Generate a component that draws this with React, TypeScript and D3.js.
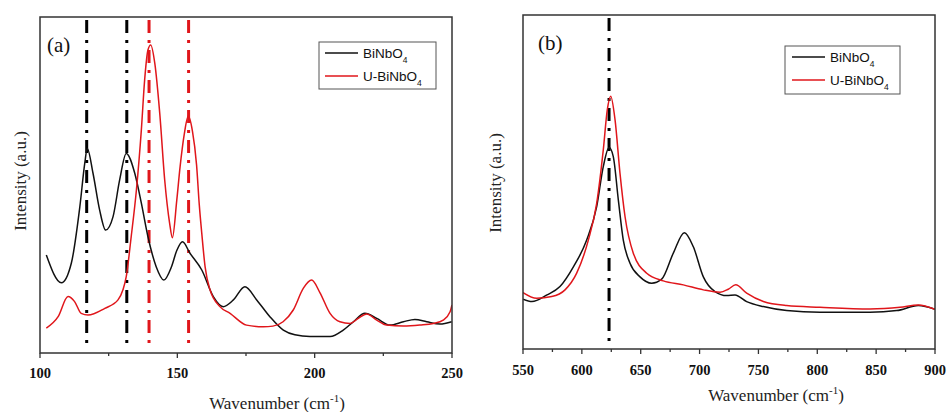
import React from "react";
import * as d3 from "d3";

// ---------- Data ----------
// Panel (a): wavenumber (cm-1) and intensity (a.u.)
const aBlackX = [102.3, 107.8, 111.4, 114.5, 116.3, 117.2, 119.3, 121.7, 123.9, 126.6, 129.0, 131.4, 134.5, 136.9, 139.3, 142.3, 145.1, 147.8, 149.8, 151.9, 154.6, 158.9, 163.1, 166.7, 170.4, 174.6, 178.9, 183.7, 188.6, 192.8, 198.3, 205.6, 210.4, 214.1, 218.3, 222.6, 227.4, 232.3, 236.5, 240.8, 245.6, 249.9];
const aBlackY = [29.2, 20.9, 26.7, 43.5, 56.5, 60.9, 53.5, 42.6, 36.6, 40.6, 51.5, 59.4, 53.5, 44.6, 34.6, 25.7, 21.7, 25.5, 30.5, 33.1, 29.7, 24.7, 16.8, 13.8, 15.8, 19.7, 15.8, 10.8, 6.8, 5.4, 4.9, 4.9, 6.8, 9.3, 11.8, 10.3, 8.3, 9.3, 10.0, 9.3, 8.6, 9.3];
const aRedX = [102.3, 106.6, 110.2, 112.6, 115.0, 117.5, 123.6, 128.4, 130.2, 131.4, 133.2, 135.1, 136.9, 138.1, 139.3, 140.3, 141.8, 143.6, 145.4, 147.2, 148.2, 149.8, 151.0, 152.5, 154.0, 155.5, 157.0, 158.0, 158.9, 160.1, 161.9, 165.5, 169.2, 175.2, 181.3, 184.8, 188.5, 192.2, 195.9, 198.9, 201.9, 205.6, 209.2, 212.9, 215.9, 218.9, 222.6, 226.2, 232.3, 238.3, 243.2, 246.8, 249.3, 250.0];
const aRedY = [7.4, 10.8, 16.8, 15.3, 11.8, 11.3, 13.3, 15.8, 18.8, 22.7, 34.6, 48.5, 66.4, 81.3, 90.2, 91.7, 86.2, 71.3, 51.5, 38.6, 34.3, 45.5, 55.4, 65.0, 70.5, 66.0, 56.0, 44.0, 35.6, 25.7, 18.8, 13.8, 11.8, 8.3, 7.8, 8.0, 9.3, 12.8, 19.3, 21.7, 18.0, 11.8, 9.3, 8.8, 10.3, 11.6, 9.8, 8.3, 8.0, 8.3, 8.8, 9.8, 12.3, 14.3];
const aBlackMarks = [117.0, 131.6];
const aRedMarks = [139.7, 154.1];
const aTicks = [100, 150, 200, 250];
const aMinorTicks = [125, 175, 225];

// Panel (b)
const bBlackX = [550, 557.6, 570.4, 581.4, 592.8, 604.1, 612.6, 618.2, 623.1, 626.7, 631.0, 635.2, 640.9, 649.4, 659.3, 667.8, 677.7, 687.1, 694.7, 703.2, 713.1, 723.1, 730.1, 740.0, 754.2, 774.0, 802.3, 844.8, 867.5, 885.8, 900];
const bBlackY = [14.9, 14.2, 16.2, 18.7, 24.6, 32.6, 42.6, 54.6, 60.3, 57.6, 44.6, 32.6, 25.7, 21.6, 19.7, 20.9, 28.7, 34.8, 30.6, 21.6, 17.2, 16.0, 16.2, 14.2, 12.7, 11.5, 11.0, 11.0, 11.5, 13.0, 11.9];
const bRedX = [550, 561.6, 574.4, 585.7, 595.6, 605.5, 612.6, 618.2, 621.6, 624.5, 628.2, 632.4, 636.7, 643.7, 655.1, 669.2, 686.2, 703.2, 717.4, 724.4, 730.7, 740.0, 754.2, 774.0, 802.3, 844.8, 870.3, 885.8, 900];
const bRedY = [16.9, 15.2, 15.7, 17.7, 22.7, 32.6, 43.6, 59.6, 71.6, 75.7, 68.6, 52.6, 39.6, 28.7, 22.7, 20.4, 19.2, 17.7, 17.0, 17.9, 19.2, 16.7, 14.2, 13.0, 12.5, 12.0, 12.5, 13.2, 11.9];
const bBlackMarks = [623.1];
const bTicks = [550, 600, 650, 700, 750, 800, 850, 900];
const bMinorTicks = [575, 625, 675, 725, 775, 825, 875];

const seriesNames = ["BiNbO", "U-BiNbO"];
const seriesColors = ["#111111", "#e0161b"];

const SERIF = "'Liberation Serif', 'Times New Roman', Times, serif";
const SANS = "'Liberation Sans', Arial, Helvetica, sans-serif";

type PanelProps = {
  label: string;
  left: number; right: number; top: number; bottom: number;
  xDomain: [number, number];
  ticks: number[]; minorTicks: number[];
  blackX: number[]; blackY: number[]; redX: number[]; redY: number[];
  blackMarks: number[]; redMarks: number[];
  legend: { x1: number; y1: number; x2: number; y2: number; lineX1: number; lineX2: number; textX: number; rowY: number[] };
  labelPos: [number, number];
  tickLabelY: number;
  xTitle: [number, number];
  yTitle: [number, number];
};

function Panel(p: PanelProps) {
  const x = d3.scaleLinear().domain(p.xDomain).range([p.left, p.right]);
  const y = d3.scaleLinear().domain([0, 100]).range([p.bottom, p.top]);
  const line = d3
    .line<[number, number]>()
    .x((d) => x(d[0]))
    .y((d) => y(d[1]))
    .curve(d3.curveMonotoneX);
  const blackPts = p.blackX.map((v, i) => [v, p.blackY[i]] as [number, number]);
  const redPts = p.redX.map((v, i) => [v, p.redY[i]] as [number, number]);
  const dash = "13,7,3,7";
  const cid = "clip" + p.label.replace(/[()]/g, "");
  return (
    <g>
      <defs>
        <clipPath id={cid}>
          <rect x={p.left} y={p.top} width={p.right - p.left} height={p.bottom - p.top} />
        </clipPath>
      </defs>
      <g clipPath={`url(#${cid})`}>
        {p.blackMarks.map((m) => (
          <line key={"bm" + m} x1={x(m)} x2={x(m)} y1={p.top + 3} y2={p.bottom - 4} stroke="#000" strokeWidth={3} strokeDasharray={dash} />
        ))}
        {p.redMarks.map((m) => (
          <line key={"rm" + m} x1={x(m)} x2={x(m)} y1={p.top + 3} y2={p.bottom - 4} stroke={seriesColors[1]} strokeWidth={3} strokeDasharray={dash} />
        ))}
        <path d={line(blackPts) || ""} fill="none" stroke={seriesColors[0]} strokeWidth={1.5} />
        <path d={line(redPts) || ""} fill="none" stroke={seriesColors[1]} strokeWidth={1.5} />
      </g>
      <rect x={p.left} y={p.top} width={p.right - p.left} height={p.bottom - p.top} fill="none" stroke="#333" strokeWidth={1.5} />
      {p.ticks.map((t) => (
        <g key={"t" + t}>
          <line x1={x(t)} x2={x(t)} y1={p.bottom} y2={p.bottom + 5} stroke="#333" strokeWidth={1.3} />
          <text x={x(t)} y={p.tickLabelY} textAnchor="middle" fontFamily={SERIF} fontWeight="bold" fontSize={14.5} fill="#111">
            {t}
          </text>
        </g>
      ))}
      {p.minorTicks.map((t) => (
        <line key={"m" + t} x1={x(t)} x2={x(t)} y1={p.bottom} y2={p.bottom + 3} stroke="#333" strokeWidth={1.3} />
      ))}
      <text x={p.xTitle[0]} y={p.xTitle[1]} textAnchor="middle" fontFamily={SERIF} fontSize={17} fill="#222">
        Wavenumber (cm<tspan dy={-7} fontSize={11}>-1</tspan><tspan dy={7}>)</tspan>
      </text>
      <text transform={`translate(${p.yTitle[0]},${p.yTitle[1]}) rotate(-90)`} textAnchor="middle" dominantBaseline="central" fontFamily={SERIF} fontSize={17} fill="#222">
        Intensity (a.u.)
      </text>
      <text x={p.labelPos[0]} y={p.labelPos[1]} fontFamily={SERIF} fontSize={21} fill="#111">
        {p.label}
      </text>
      <rect x={p.legend.x1} y={p.legend.y1} width={p.legend.x2 - p.legend.x1} height={p.legend.y2 - p.legend.y1} fill="#fff" stroke="#555" strokeWidth={1} />
      {seriesNames.map((n, i) => (
        <g key={n}>
          <line x1={p.legend.lineX1} x2={p.legend.lineX2} y1={p.legend.rowY[i]} y2={p.legend.rowY[i]} stroke={seriesColors[i]} strokeWidth={1.5} />
          <text x={p.legend.textX} y={p.legend.rowY[i] + 5} fontFamily={SANS} fontSize={13.5} fill="#111">
            {n}
            <tspan dy={5} fontSize={8.5}>4</tspan>
          </text>
        </g>
      ))}
    </g>
  );
}

export default function App() {
  return (
    <svg width={949} height={412} style={{ position: "absolute", left: 0, top: 0, background: "#fff" }}>
      <rect x={0} y={0} width={949} height={412} fill="#fff" />
      <Panel
        label="(a)"
        left={40} right={452} top={17} bottom={353}
        xDomain={[100, 250]}
        ticks={aTicks} minorTicks={aMinorTicks}
        blackX={aBlackX} blackY={aBlackY} redX={aRedX} redY={aRedY}
        blackMarks={aBlackMarks} redMarks={aRedMarks}
        legend={{ x1: 319, y1: 42, x2: 436, y2: 89, lineX1: 325, lineX2: 358, textX: 363, rowY: [53, 76] }}
        labelPos={[47, 52]}
        tickLabelY={378}
        xTitle={[277, 409]}
        yTitle={[20, 181]}
      />
      <Panel
        label="(b)"
        left={523} right={935} top={15} bottom={349}
        xDomain={[550, 900]}
        ticks={bTicks} minorTicks={bMinorTicks}
        blackX={bBlackX} blackY={bBlackY} redX={bRedX} redY={bRedY}
        blackMarks={bBlackMarks} redMarks={[]}
        legend={{ x1: 785, y1: 46, x2: 900, y2: 94, lineX1: 792, lineX2: 825, textX: 830, rowY: [57, 80] }}
        labelPos={[538, 50]}
        tickLabelY={375}
        xTitle={[776, 401]}
        yTitle={[495, 183]}
      />
    </svg>
  );
}
